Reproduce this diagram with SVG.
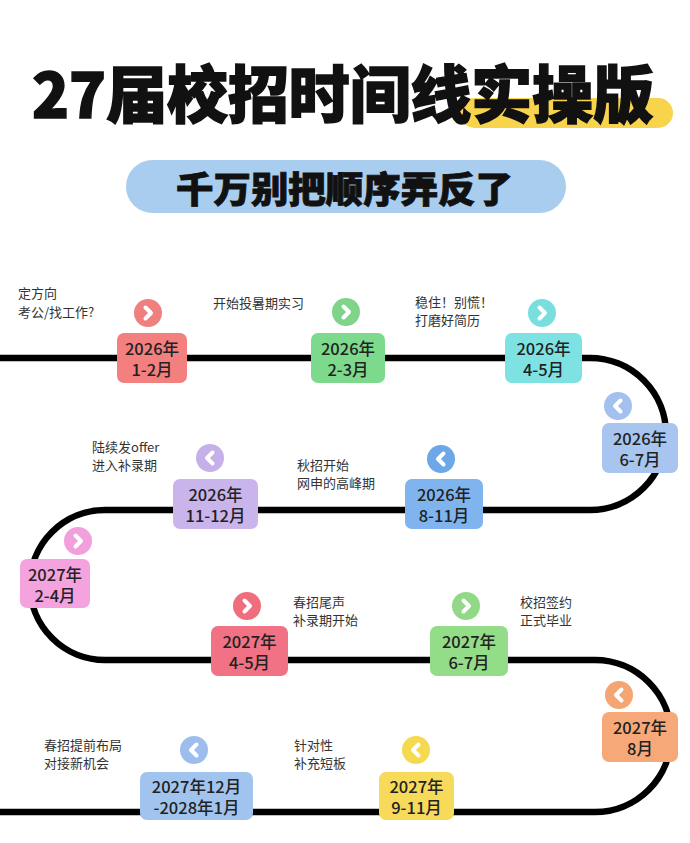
<svg xmlns="http://www.w3.org/2000/svg" width="690" height="843" viewBox="0 0 690 843">
<defs>
<style>
.title{font-family:"Noto Sans CJK SC","Liberation Sans",sans-serif;font-weight:900;fill:#111;}
.sub{font-family:"Noto Sans CJK SC","Liberation Sans",sans-serif;font-weight:900;fill:#111;}
.bt{font-family:"Noto Sans CJK SC","Liberation Sans",sans-serif;font-weight:500;font-size:16.5px;fill:#222;text-anchor:middle;}
.lb{font-family:"Noto Sans CJK SC","Liberation Sans",sans-serif;font-size:13px;fill:#333;}
.chev{fill:none;stroke:#fff;stroke-width:4;stroke-linecap:round;stroke-linejoin:round;}
.line{fill:none;stroke:#000;stroke-width:6.5;}
</style>
<path id="right" class="chev" d="M-2.5,-5.5 L3,0 L-2.5,5.5"/>
<path id="left" class="chev" d="M2.5,-5.5 L-3,0 L2.5,5.5"/>
</defs>
<rect width="690" height="843" fill="#fff"/>
<g id="header">
<rect x="460" y="98" width="213" height="30" rx="15" fill="#F7D44C"/>
<text class="title" x="32" y="118" font-size="62" textLength="622" lengthAdjust="spacingAndGlyphs" stroke="#111" stroke-width="1.5">27届校招时间线实操版</text>
<rect x="126" y="160" width="440" height="53" rx="26.5" fill="#A9CDEE"/>
<text class="sub" x="176" y="203" font-size="36" textLength="337" lengthAdjust="spacingAndGlyphs" stroke="#111" stroke-width="0.8">千万别把顺序弄反了</text>
</g>
<g id="connectors">
<path class="line" d="M0,358 H590 A76,76 0 0 1 590,510 H105 A75,75 0 0 0 105,660 H595 A76,76 0 0 1 595,812 H0"/>
</g>
<g id="n1">
<rect x="117" y="333" width="70" height="50" rx="7" fill="#F47F7F"/>
<text class="bt" x="152" y="355">2026年<tspan x="152" dy="20.5">1-2月</tspan></text>
<circle cx="148" cy="313" r="14" fill="#F08080"/><use href="#right" x="148" y="313"/>
<text class="lb" x="18" y="298">定方向<tspan x="18" dy="19">考公/找工作?</tspan></text>
</g>
<g id="n2">
<rect x="311" y="333" width="74" height="50" rx="7" fill="#7DD98B"/>
<text class="bt" x="348" y="355">2026年<tspan x="348" dy="20.5">2-3月</tspan></text>
<circle cx="346" cy="312" r="14" fill="#7FD48A"/><use href="#right" x="346" y="312"/>
<text class="lb" x="213" y="308">开始投暑期实习</text>
</g>
<g id="n3">
<rect x="505" y="333" width="77" height="50" rx="7" fill="#7EE2E2"/>
<text class="bt" x="543.5" y="355">2026年<tspan x="543.5" dy="20.5">4-5月</tspan></text>
<circle cx="542" cy="313" r="14" fill="#78DEDE"/><use href="#right" x="542" y="313"/>
<text class="lb" x="415" y="307">稳住！别慌！<tspan x="415" dy="18">打磨好简历</tspan></text>
</g>
<g id="n4">
<rect x="602" y="423" width="76" height="50" rx="7" fill="#A7C5EF"/>
<text class="bt" x="640" y="445">2026年<tspan x="640" dy="20.5">6-7月</tspan></text>
<circle cx="618" cy="406" r="14" fill="#A4C0EE"/><use href="#left" x="618" y="406"/>
</g>
<g id="n5">
<rect x="405" y="479" width="78" height="50" rx="7" fill="#80B4EE"/>
<text class="bt" x="444" y="501">2026年<tspan x="444" dy="20.5">8-11月</tspan></text>
<circle cx="441" cy="459" r="14" fill="#6CA8E8"/><use href="#left" x="441" y="459"/>
<text class="lb" x="297" y="470">秋招开始<tspan x="297" dy="18">网申的高峰期</tspan></text>
</g>
<g id="n6">
<rect x="173" y="479" width="85" height="50" rx="7" fill="#C9B5EC"/>
<text class="bt" x="215.5" y="501">2026年<tspan x="215.5" dy="20.5">11-12月</tspan></text>
<circle cx="210" cy="458" r="14" fill="#C5B0EA"/><use href="#left" x="210" y="458"/>
<text class="lb" x="92" y="452">陆续发offer<tspan x="92" dy="18">进入补录期</tspan></text>
</g>
<g id="n7">
<rect x="20" y="559" width="70" height="49" rx="7" fill="#F4A3DE"/>
<text class="bt" x="55" y="581">2027年<tspan x="55" dy="20.5">2-4月</tspan></text>
<circle cx="78" cy="541" r="14" fill="#F2A0DC"/><use href="#right" x="78" y="541"/>
</g>
<g id="n8">
<rect x="211" y="626" width="77" height="50" rx="7" fill="#F07284"/>
<text class="bt" x="249.5" y="648">2027年<tspan x="249.5" dy="20.5">4-5月</tspan></text>
<circle cx="247" cy="606" r="14" fill="#EE6E7E"/><use href="#right" x="247" y="606"/>
<text class="lb" x="293" y="607">春招尾声<tspan x="293" dy="18">补录期开始</tspan></text>
</g>
<g id="n9">
<rect x="430" y="626" width="78" height="50" rx="7" fill="#93DC88"/>
<text class="bt" x="469" y="648">2027年<tspan x="469" dy="20.5">6-7月</tspan></text>
<circle cx="466" cy="606" r="14" fill="#92D987"/><use href="#right" x="466" y="606"/>
<text class="lb" x="520" y="607">校招签约<tspan x="520" dy="18">正式毕业</tspan></text>
</g>
<g id="n10">
<rect x="602" y="712" width="76" height="50" rx="7" fill="#F6A878"/>
<text class="bt" x="640" y="734">2027年<tspan x="640" dy="20.5">8月</tspan></text>
<circle cx="619" cy="695" r="14" fill="#F4A572"/><use href="#left" x="619" y="695"/>
</g>
<g id="n11">
<rect x="379" y="772" width="75" height="48" rx="7" fill="#F8DA5A"/>
<text class="bt" x="416.5" y="793">2027年<tspan x="416.5" dy="20.5">9-11月</tspan></text>
<circle cx="416" cy="750" r="14" fill="#F5D94F"/><use href="#left" x="416" y="750"/>
<text class="lb" x="294" y="750">针对性<tspan x="294" dy="18">补充短板</tspan></text>
</g>
<g id="n12">
<rect x="140" y="772" width="113" height="48" rx="7" fill="#A1C4EE"/>
<text class="bt" x="196.5" y="793">2027年12月<tspan x="196.5" dy="20.5">-2028年1月</tspan></text>
<circle cx="194" cy="750" r="14" fill="#9DBEEC"/><use href="#left" x="194" y="750"/>
<text class="lb" x="44" y="750">春招提前布局<tspan x="44" dy="18">对接新机会</tspan></text>
</g>
</svg>
